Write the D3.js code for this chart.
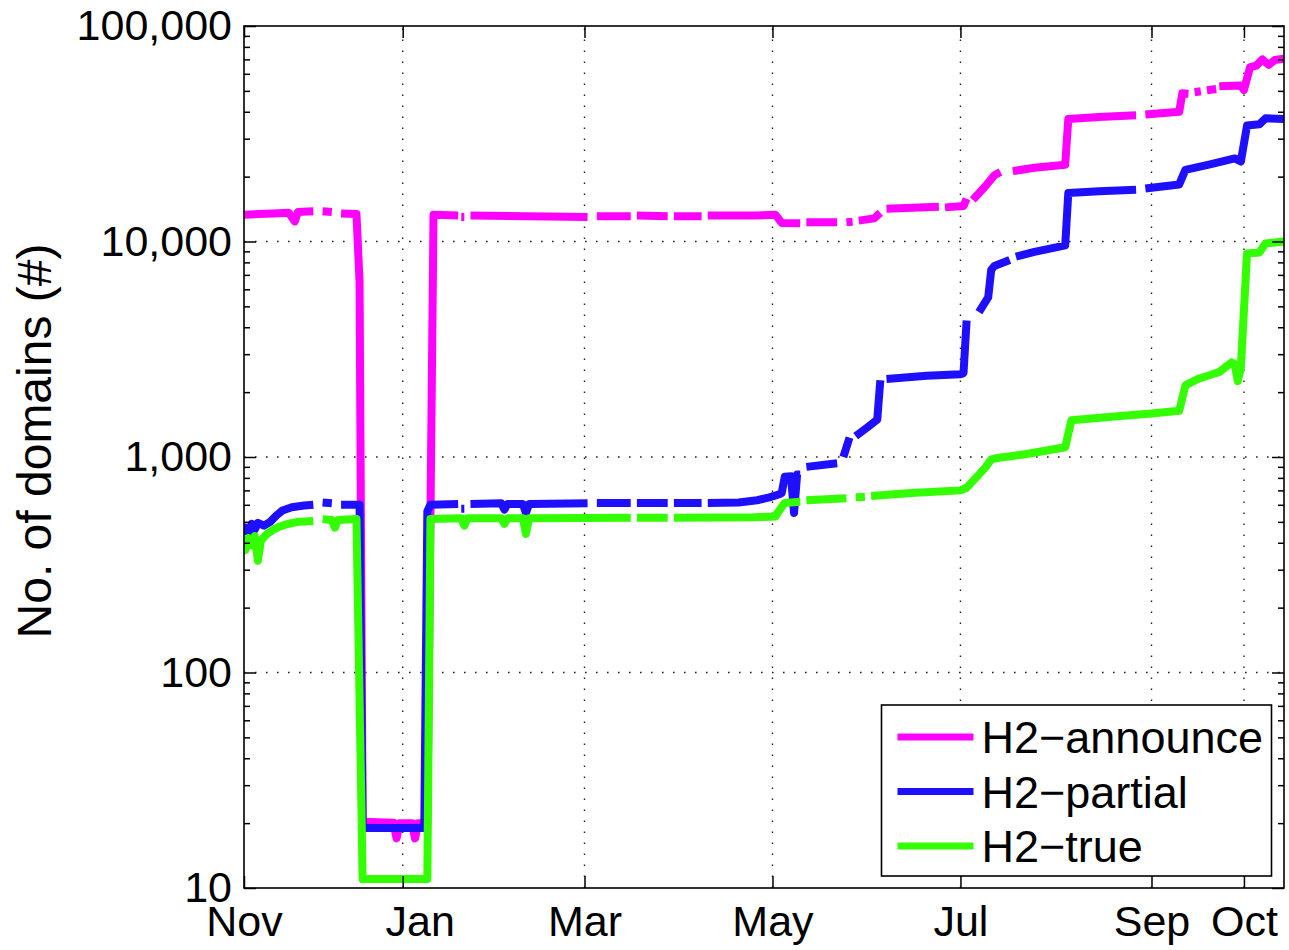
<!DOCTYPE html>
<html>
<head>
<meta charset="utf-8">
<script src="https://cdn.jsdelivr.net/npm/d3@7"></script>
<style>
  body { margin: 0; background: #fff; }
  text { font-family: "Liberation Sans", Arial, sans-serif; fill: #000; }
</style>
</head>
<body>
<svg id="chart" width="1289" height="950"></svg>
<script>
// values, [date, domains]; null = day without data
const seriesNames = ["H2\u2212announce", "H2\u2212partial", "H2\u2212true"];
const yTicks = [10, 100, 1000, 10000, 100000];
const xTickDates = ["2014-11-10T12", "2015-01-01T00", "2015-03-01T00", "2015-05-01T00", "2015-07-01T00", "2015-09-01T00", "2015-10-01T00"];
const xTickLabels = ["Nov", "Jan", "Mar", "May", "Jul", "Sep", "Oct"];
const xDomain = ["2014-11-10T12", "2015-10-14T00"];

const announce = [
  ["2014-11-10", 13300], ["2014-11-15", 13400], ["2014-11-20", 13500], ["2014-11-25", 13600],
  ["2014-11-27", 12400], ["2014-11-28", 13700], ["2014-12-03", 13800], null,
  ["2014-12-06", 13800], ["2014-12-09", 13700], null,
  ["2014-12-12", 13500], ["2014-12-17", 13400], ["2014-12-18", 6500], ["2014-12-19", 20.3],
  ["2014-12-29", 20.1], ["2014-12-30", 17], ["2014-12-31", 20], ["2015-01-04", 20],
  ["2015-01-05", 17], ["2015-01-06", 20], ["2015-01-09", 20], ["2015-01-11", 13300],
  ["2015-01-19", 13200], null,
  ["2015-01-20", 13000], ["2015-01-21", 13000], null,
  ["2015-01-23", 13200], ["2015-02-10", 13100], ["2015-03-02", 13000], null,
  ["2015-03-05", 13100], ["2015-03-16", 13100], null,
  ["2015-03-18", 13200], ["2015-03-28", 13100], null,
  ["2015-03-30", 13100], ["2015-04-08", 13100], null,
  ["2015-04-10", 13200], ["2015-04-25", 13200], ["2015-05-02", 13300], ["2015-05-04", 12200],
  ["2015-05-10", 12150], null,
  ["2015-05-12", 12300], ["2015-05-22", 12300], null,
  ["2015-05-25", 12300], ["2015-05-27", 12350], null,
  ["2015-05-29", 12500], ["2015-06-03", 12800], ["2015-06-05", 13600], null,
  ["2015-06-07", 14200], ["2015-06-24", 14500], null,
  ["2015-06-26", 14400], ["2015-07-02", 14600], ["2015-07-03", 15800], null,
  ["2015-07-05", 15600], ["2015-07-09", 18000], ["2015-07-12", 20300], ["2015-07-14", 21000], null,
  ["2015-07-18", 21200], ["2015-07-25", 22000], ["2015-08-04", 22700], ["2015-08-05", 37000],
  ["2015-08-15", 37800], ["2015-08-27", 38500], null,
  ["2015-08-30", 38800], ["2015-09-10", 40000], ["2015-09-11", 48700], ["2015-09-13", 48500], null,
  ["2015-09-15", 49300], ["2015-09-17", 49800], null,
  ["2015-09-19", 50300], ["2015-09-22", 51000], null,
  ["2015-09-23", 52500], ["2015-09-30", 53000], ["2015-10-01", 50500], ["2015-10-03", 64500],
  ["2015-10-05", 65500], ["2015-10-07", 70000], ["2015-10-09", 66000], ["2015-10-11", 69500],
  ["2015-10-14", 70500]
];

const partial = [
  ["2014-11-10", 440], ["2014-11-11", 470], ["2014-11-12", 445], ["2014-11-13", 490],
  ["2014-11-14", 460], ["2014-11-15", 495], ["2014-11-17", 480], ["2014-11-19", 500],
  ["2014-11-21", 535], ["2014-11-23", 565], ["2014-11-26", 585], ["2014-11-30", 595],
  ["2014-12-03", 600], null,
  ["2014-12-06", 615], ["2014-12-09", 610], null,
  ["2014-12-12", 600], ["2014-12-18", 600], ["2014-12-19", 19], ["2015-01-08", 19],
  ["2015-01-09", 560], ["2015-01-10", 600], ["2015-01-19", 605], null,
  ["2015-01-20", 575], ["2015-01-21", 575], null,
  ["2015-01-23", 605], ["2015-02-02", 610], ["2015-02-03", 570], ["2015-02-04", 605],
  ["2015-02-09", 605], ["2015-02-10", 550], ["2015-02-11", 605], ["2015-03-02", 610], null,
  ["2015-03-05", 612], ["2015-03-16", 612], null,
  ["2015-03-18", 612], ["2015-03-28", 612], null,
  ["2015-03-30", 612], ["2015-04-08", 612], null,
  ["2015-04-10", 612], ["2015-04-20", 615], ["2015-04-26", 630], ["2015-04-30", 650],
  ["2015-05-03", 670], ["2015-05-04", 680], ["2015-05-05", 810], ["2015-05-07", 815],
  ["2015-05-08", 550], ["2015-05-09", 830], ["2015-05-10", 830], null,
  ["2015-05-12", 900], ["2015-05-22", 935], null,
  ["2015-05-24", 1000], ["2015-05-26", 1230], null,
  ["2015-05-28", 1250], ["2015-06-01", 1380], ["2015-06-04", 1490], ["2015-06-05", 2270], null,
  ["2015-06-07", 2300], ["2015-06-20", 2380], ["2015-07-01", 2420], ["2015-07-02", 2450],
  ["2015-07-03", 4300], null,
  ["2015-07-07", 4700], ["2015-07-10", 5500], ["2015-07-11", 7400], ["2015-07-12", 7700],
  ["2015-07-17", 8200], null,
  ["2015-07-19", 8500], ["2015-07-25", 8950], ["2015-08-01", 9400], ["2015-08-04", 9600],
  ["2015-08-05", 16800], ["2015-08-15", 17100], ["2015-08-27", 17400], null,
  ["2015-08-30", 17600], ["2015-09-10", 18400], ["2015-09-12", 21500], ["2015-09-20", 22800],
  ["2015-09-28", 24300], ["2015-09-30", 23500], ["2015-10-02", 34500], ["2015-10-06", 35000],
  ["2015-10-08", 37300], ["2015-10-14", 37000]
];

const h2true = [
  ["2014-11-10", 410], ["2014-11-11", 370], ["2014-11-12", 420], ["2014-11-13", 390],
  ["2014-11-14", 430], ["2014-11-15", 330], ["2014-11-16", 410], ["2014-11-18", 440],
  ["2014-11-20", 460], ["2014-11-22", 475], ["2014-11-25", 490], ["2014-11-28", 500],
  ["2014-12-03", 505], null,
  ["2014-12-06", 515], ["2014-12-09", 510], ["2014-12-10", 470], ["2014-12-11", 510],
  ["2014-12-17", 515], ["2014-12-19", 11], ["2015-01-09", 11], ["2015-01-10", 515],
  ["2015-01-20", 520], ["2015-01-21", 480], ["2015-01-22", 520], ["2015-02-02", 520],
  ["2015-02-03", 490], ["2015-02-04", 520], ["2015-02-09", 520], ["2015-02-10", 440],
  ["2015-02-11", 520], ["2015-03-16", 522], null,
  ["2015-03-18", 522], ["2015-03-28", 522], null,
  ["2015-03-30", 522], ["2015-04-25", 525], ["2015-05-02", 530], ["2015-05-03", 560],
  ["2015-05-05", 612], ["2015-05-10", 620], null,
  ["2015-05-12", 630], ["2015-05-25", 643], null,
  ["2015-05-28", 650], ["2015-05-31", 652], null,
  ["2015-06-02", 660], ["2015-06-15", 680], ["2015-07-01", 700], ["2015-07-03", 720],
  ["2015-07-06", 800], ["2015-07-09", 890], ["2015-07-11", 975], ["2015-07-13", 990],
  ["2015-07-22", 1030], ["2015-08-04", 1110], ["2015-08-06", 1480], ["2015-08-20", 1540],
  ["2015-09-01", 1590], ["2015-09-10", 1640], ["2015-09-12", 2150], ["2015-09-16", 2300],
  ["2015-09-20", 2400], ["2015-09-23", 2480], ["2015-09-27", 2750], ["2015-09-28", 2700],
  ["2015-09-29", 2250], ["2015-09-30", 2600], ["2015-10-02", 8800], ["2015-10-06", 8900],
  ["2015-10-08", 9800], ["2015-10-14", 10000]
];

const colors = ["#ff00ff", "#1f0fff", "#33ff00"];

const svg = d3.select('#chart');
const margin = { top: 26, right: 5, bottom: 62, left: 244 };
const width = +svg.attr('width');
const height = +svg.attr('height');
const x0 = margin.left, x1 = width - margin.right;
const y0 = height - margin.bottom, y1 = margin.top;

const parseDay = d3.timeParse('%Y-%m-%d');
const parseHour = d3.timeParse('%Y-%m-%dT%H');

const x = d3.scaleTime().domain(xDomain.map(parseHour)).range([x0, x1]);
const y = d3.scaleLog().domain([10, 100000]).range([y0, y1]);

const minorY = [];
yTicks.slice(0, -1).forEach(t => { for (let k = 2; k <= 9; k++) minorY.push(t * k); });
const xTickVals = xTickDates.map(parseHour);

// grid
const grid = svg.append('g').attr('stroke', '#222').attr('stroke-width', 1.4).attr('stroke-dasharray', '1.6 9.4');
grid.selectAll('.gy').data(yTicks.slice(1, -1)).join('line')
  .attr('x1', x0).attr('x2', x1).attr('y1', d => y(d)).attr('y2', d => y(d));
grid.selectAll('.gx').data(xTickVals.slice(1)).join('line')
  .attr('x1', d => x(d)).attr('x2', d => x(d)).attr('y1', y0).attr('y2', y1);

// lines
svg.append('clipPath').attr('id', 'plotclip').append('rect')
  .attr('x', x0).attr('y', y1).attr('width', x1 - x0).attr('height', y0 - y1);

const line = d3.line()
  .defined(d => d !== null)
  .x(d => x(parseDay(d[0])))
  .y(d => y(d[1]));

const plot = svg.append('g').attr('clip-path', 'url(#plotclip)');
[announce, partial, h2true].forEach((s, i) => {
  plot.append('path')
    .datum(s)
    .attr('fill', 'none')
    .attr('stroke', colors[i])
    .attr('stroke-width', 8)
    .attr('stroke-linejoin', 'round')
    .attr('stroke-linecap', 'butt')
    .attr('d', line);
});

// axes
const fontSize = 43;
svg.append('g').attr('transform', `translate(${x0},0)`)
  .call(d3.axisLeft(y).tickValues(yTicks).tickFormat(d3.format(',')).tickSize(-12).tickPadding(12));
svg.append('g').attr('transform', `translate(${x0},0)`)
  .call(d3.axisLeft(y).tickValues(minorY).tickFormat('').tickSize(-6));
svg.append('g').attr('transform', `translate(${x1},0)`)
  .call(d3.axisRight(y).tickValues(yTicks).tickFormat('').tickSize(-12));
svg.append('g').attr('transform', `translate(${x1},0)`)
  .call(d3.axisRight(y).tickValues(minorY).tickFormat('').tickSize(-6));

const xAxis = svg.append('g').attr('transform', `translate(0,${y0})`)
  .call(d3.axisBottom(x).tickValues(xTickVals).tickFormat((d, i) => xTickLabels[i]).tickSize(-12).tickPadding(17));
// the Jan label sits a bit right of its tick in the original
xAxis.selectAll('.tick text').filter((d, i) => i === 1).attr('dx', 17);
svg.append('g').attr('transform', `translate(0,${y1})`)
  .call(d3.axisTop(x).tickValues(xTickVals).tickFormat('').tickSize(-12));

svg.selectAll('.domain').remove();
svg.selectAll('.tick line').attr('stroke', '#000').attr('stroke-width', 1.5);
svg.selectAll('.tick text').attr('font-size', fontSize).attr('font-family', '"Liberation Sans", Arial, sans-serif');

svg.append('rect')
  .attr('x', x0).attr('y', y1).attr('width', x1 - x0).attr('height', y0 - y1)
  .attr('fill', 'none').attr('stroke', '#000').attr('stroke-width', 1.6);

// y label
svg.append('text')
  .attr('transform', 'translate(51,441) rotate(-90)')
  .attr('text-anchor', 'middle')
  .attr('font-size', 48)
  .text('No. of domains (#)');

// legend
const lg = svg.append('g').attr('transform', 'translate(881.5,705)');
lg.append('rect').attr('width', 390).attr('height', 171)
  .attr('fill', '#fff').attr('stroke', '#000').attr('stroke-width', 1.6);
seriesNames.forEach((name, i) => {
  const row = 32 + i * 54.5;
  lg.append('line').attr('x1', 16).attr('x2', 92).attr('y1', row).attr('y2', row)
    .attr('stroke', colors[i]).attr('stroke-width', 7);
  lg.append('text').attr('x', 100).attr('y', row + 16).attr('font-size', 45).text(name);
});
</script>
</body>
</html>
